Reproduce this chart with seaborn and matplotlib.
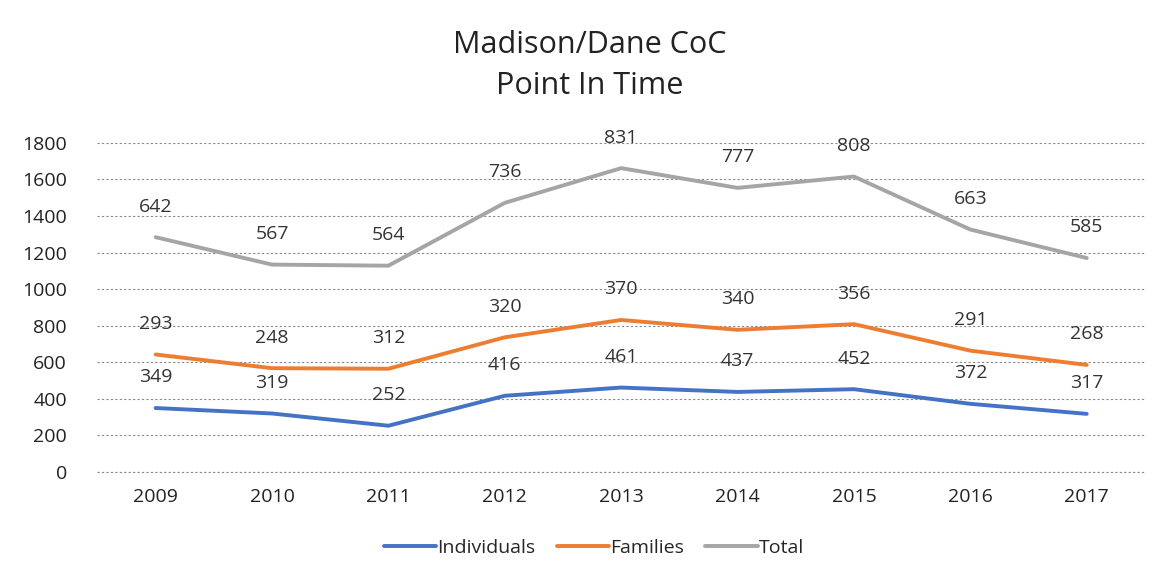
import pandas as pd
import matplotlib
matplotlib.use("Agg")
import matplotlib.pyplot as plt
import seaborn as sns

# Data (stacked line chart, labels show raw values)
years = ['2009', '2010', '2011', '2012', '2013', '2014', '2015', '2016', '2017']
individuals = [349, 319, 252, 416, 461, 437, 452, 372, 317]
families = [293, 248, 312, 320, 370, 340, 356, 291, 268]
total = [642, 567, 564, 736, 831, 777, 808, 663, 585]
series_names = ['Individuals', 'Families', 'Total']
colors = ['#4472C4', '#ED7D31', '#A5A5A5']

# Stack the series like Excel's stacked line
raw = pd.DataFrame({'Individuals': individuals, 'Families': families, 'Total': total}, index=years)
stacked = raw.cumsum(axis=1)
long = stacked.reset_index(names='Year').melt(id_vars='Year', var_name='Series', value_name='Value')
long['x'] = long['Year'].map({y: i for i, y in enumerate(years)})

sns.set_style('white')
plt.rcParams['font.family'] = ['Open Sans', 'DejaVu Sans']

fig = plt.figure(figsize=(11.6, 5.81), dpi=100)
ax = fig.add_axes([0.084, 0.188, 0.903, 0.566])

grid_style = dict(linestyle=(0, (2, 2)), color='#888888', linewidth=0.8)
ax.yaxis.grid(True, **grid_style)
ax.axhline(0, clip_on=False, zorder=0, **grid_style)
ax.set_axisbelow(True)

sns.lineplot(data=long, x='x', y='Value', hue='Series', hue_order=series_names,
             palette=colors, linewidth=2.8, ax=ax, legend=True)

# Data labels
for name in series_names:
    for i, y in enumerate(years):
        ax.annotate(str(raw.loc[y, name]), (i, stacked.loc[y, name]),
                    xytext=(0, 22), textcoords='offset points',
                    ha='center', va='center', fontsize=14, color='#333333')

ax.set_xlim(-0.5, len(years) - 0.5)
ax.set_ylim(0, 1800)
ax.set_yticks(range(0, 1801, 200))
ax.set_xticks(range(len(years)))
ax.set_xticklabels(years)
ax.tick_params(axis='both', labelsize=14, colors='#222222', length=0)
ax.tick_params(axis='x', pad=12)
ax.tick_params(axis='y', pad=22)
for s in ax.spines.values():
    s.set_visible(False)
ax.set_xlabel('')
ax.set_ylabel('')

fig.suptitle('Madison/Dane CoC\nPoint In Time', x=0.508, y=0.948, fontsize=22,
             color='#222222', linespacing=1.45)

handles, labels = ax.get_legend_handles_labels()
ax.legend(handles, labels, loc='upper center', bbox_to_anchor=(0.474, -0.152), ncol=3,
          frameon=False, fontsize=14, handlelength=2.7, handletextpad=0.05, columnspacing=1.1)

fig.savefig('out.png', dpi=100)
